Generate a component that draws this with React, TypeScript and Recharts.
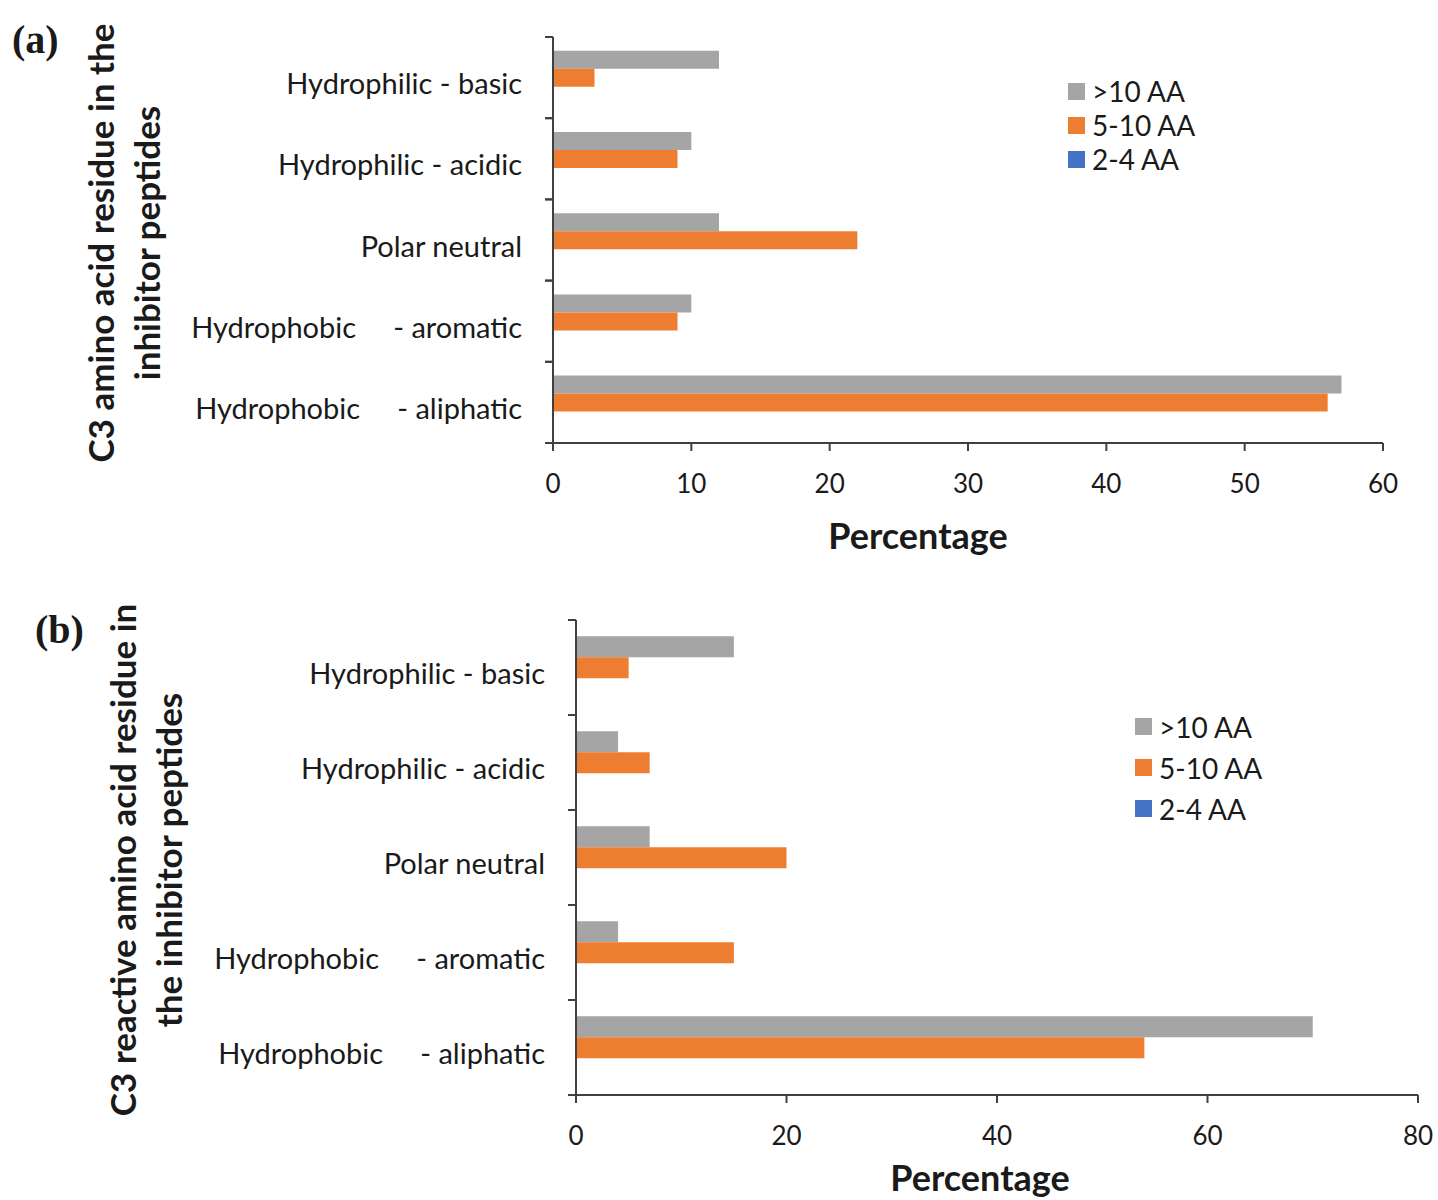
import React from "react";
import { BarChart, Bar, XAxis, YAxis, Legend } from "recharts";

const categories = [
  "Hydrophilic - basic",
  "Hydrophilic - acidic",
  "Polar neutral",
  "Hydrophobic     - aromatic",
  "Hydrophobic     - aliphatic",
];

const seriesNames = [">10 AA", "5-10 AA", "2-4 AA"];
const seriesColors = ["#A5A5A5", "#ED7D31", "#4472C4"];

// panel (a): C3 amino acid residue
const aOver10 = [12, 10, 12, 10, 57];
const a5to10 = [3, 9, 22, 9, 56];
const a2to4 = [0, 0, 0, 0, 0];
const aTicks = [0, 10, 20, 30, 40, 50, 60];

// panel (b): C3 reactive amino acid residue
const bOver10 = [15, 4, 7, 4, 70];
const b5to10 = [5, 7, 20, 15, 54];
const b2to4 = [0, 0, 0, 0, 0];
const bTicks = [0, 20, 40, 60, 80];

const AXIS = "#404040";
const FONT = "Lato, 'Open Sans', sans-serif";

const buildRows = (s1: number[], s2: number[], s3: number[]) =>
  categories.map((name, i) => ({ name, s1: s1[i], s2: s2[i], s3: s3[i] }));

function CategoryTick(props: any) {
  const { y, payload, axisX, band } = props;
  return (
    <g>
      <line x1={axisX - 8} x2={axisX} y1={y - band / 2} y2={y - band / 2} stroke={AXIS} strokeWidth={2} />
      <line x1={axisX - 8} x2={axisX} y1={y + band / 2} y2={y + band / 2} stroke={AXIS} strokeWidth={2} />
      <text
        x={axisX - 31}
        y={y + 5}
        textAnchor="end"
        dominantBaseline="central"
        fill="#1a1a1a"
        fontSize={29}
        fontFamily={FONT}
        style={{ whiteSpace: "pre" }}
      >
        {payload.value}
      </text>
    </g>
  );
}

function LegendBox(props: any) {
  const { payload, gap } = props;
  const items = [...(payload || [])].sort(
    (a: any, b: any) => seriesNames.indexOf(a.value) - seriesNames.indexOf(b.value)
  );
  return (
    <div style={{ fontFamily: FONT }}>
      {items.map((p: any) => (
        <div key={p.value} style={{ display: "flex", alignItems: "center", height: gap }}>
          <span style={{ width: 17, height: 17, background: p.color, display: "inline-block", marginRight: 7 }} />
          <span style={{ fontSize: 28, color: "#1a1a1a" }}>{p.value}</span>
        </div>
      ))}
    </div>
  );
}

type PanelProps = {
  top: number;
  height: number;
  margin: { top: number; right: number; left: number; bottom: number };
  yWidth: number;
  xHeight: number;
  band: number;
  rows: any[];
  ticks: number[];
  legendPos: { left: number; top: number };
  legendGap: number;
  titleShift: number;
  titleY: number;
};

function Panel(p: PanelProps) {
  const axisX = p.margin.left + p.yWidth;
  return (
    <div style={{ position: "absolute", left: 0, top: p.top }}>
      <BarChart
        width={1438}
        height={p.height}
        data={p.rows}
        layout="vertical"
        margin={p.margin}
        barCategoryGap="17%"
        barGap={0}
      >
        <XAxis
          type="number"
          domain={[0, p.ticks[p.ticks.length - 1]]}
          ticks={p.ticks}
          interval={0}
          height={p.xHeight}
          axisLine={{ stroke: AXIS, strokeWidth: 2 }}
          tickLine={{ stroke: AXIS, strokeWidth: 2 }}
          tickSize={8}
          tickMargin={24}
          tick={{ fill: "#1a1a1a", fontSize: 26, fontFamily: FONT }}
          label={{
            content: (lp: any) => {
              const vb = lp.viewBox;
              return (
                <text
                  x={vb.x + vb.width / 2 + p.titleShift}
                  y={vb.y + p.titleY}
                  textAnchor="middle"
                  fontSize={36}
                  fontWeight="bold"
                  fontFamily={FONT}
                  fill="#1a1a1a"
                >
                  Percentage
                </text>
              );
            },
          }}
        />
        <YAxis
          type="category"
          dataKey="name"
          width={p.yWidth}
          interval={0}
          axisLine={{ stroke: AXIS, strokeWidth: 2 }}
          tickLine={false}
          tick={<CategoryTick axisX={axisX} band={p.band} />}
        />
        <Legend
          layout="vertical"
          align="center"
          verticalAlign="middle"
          content={<LegendBox gap={p.legendGap} />}
          wrapperStyle={{ position: "absolute", left: p.legendPos.left, top: p.legendPos.top, width: 200 }}
        />
        <Bar dataKey="s1" name={seriesNames[0]} fill={seriesColors[0]} isAnimationActive={false} />
        <Bar dataKey="s2" name={seriesNames[1]} fill={seriesColors[1]} isAnimationActive={false} />
        <Bar dataKey="s3" name={seriesNames[2]} fill={seriesColors[2]} isAnimationActive={false} />
      </BarChart>
    </div>
  );
}

const yTitleStyle = (cx: number, cy: number): React.CSSProperties => ({
  position: "absolute",
  left: cx,
  top: cy,
  transform: "translate(-50%, -50%) rotate(-90deg)",
  whiteSpace: "nowrap",
  textAlign: "center",
  fontFamily: FONT,
  fontWeight: "bold",
  fontSize: 35,
  lineHeight: "46px",
  color: "#1a1a1a",
});

const letterStyle = (left: number, top: number): React.CSSProperties => ({
  position: "absolute",
  left,
  top,
  fontFamily: "'Liberation Serif', 'DejaVu Serif', serif",
  fontWeight: "bold",
  fontSize: 40,
  color: "#1a1a1a",
  lineHeight: 1,
});

export default function App() {
  return (
    <div style={{ position: "absolute", left: 0, top: 0, width: 1438, height: 1200, background: "#fff", overflow: "hidden" }}>
      <Panel
        top={0}
        height={580}
        margin={{ top: 37, right: 55, left: 0, bottom: 37 }}
        yWidth={553}
        xHeight={100}
        band={81.2}
        rows={buildRows(aOver10, a5to10, a2to4)}
        ticks={aTicks}
        legendPos={{ left: 1068, top: 74 }}
        legendGap={34}
        titleShift={-50}
        titleY={106}
      />
      <Panel
        top={580}
        height={620}
        margin={{ top: 40, right: 20, left: 0, bottom: 0 }}
        yWidth={576}
        xHeight={105}
        band={95}
        rows={buildRows(bOver10, b5to10, b2to4)}
        ticks={bTicks}
        legendPos={{ left: 1135, top: 126 }}
        legendGap={41}
        titleShift={-17}
        titleY={96}
      />
      <div style={letterStyle(12, 20)}>(a)</div>
      <div style={letterStyle(35, 610)}>(b)</div>
      <div style={yTitleStyle(123, 243)}>
        C3 amino acid residue in the
        <br />
        inhibitor peptides
      </div>
      <div style={yTitleStyle(145, 860)}>
        C3 reactive amino acid residue in
        <br />
        the inhibitor peptides
      </div>
    </div>
  );
}
